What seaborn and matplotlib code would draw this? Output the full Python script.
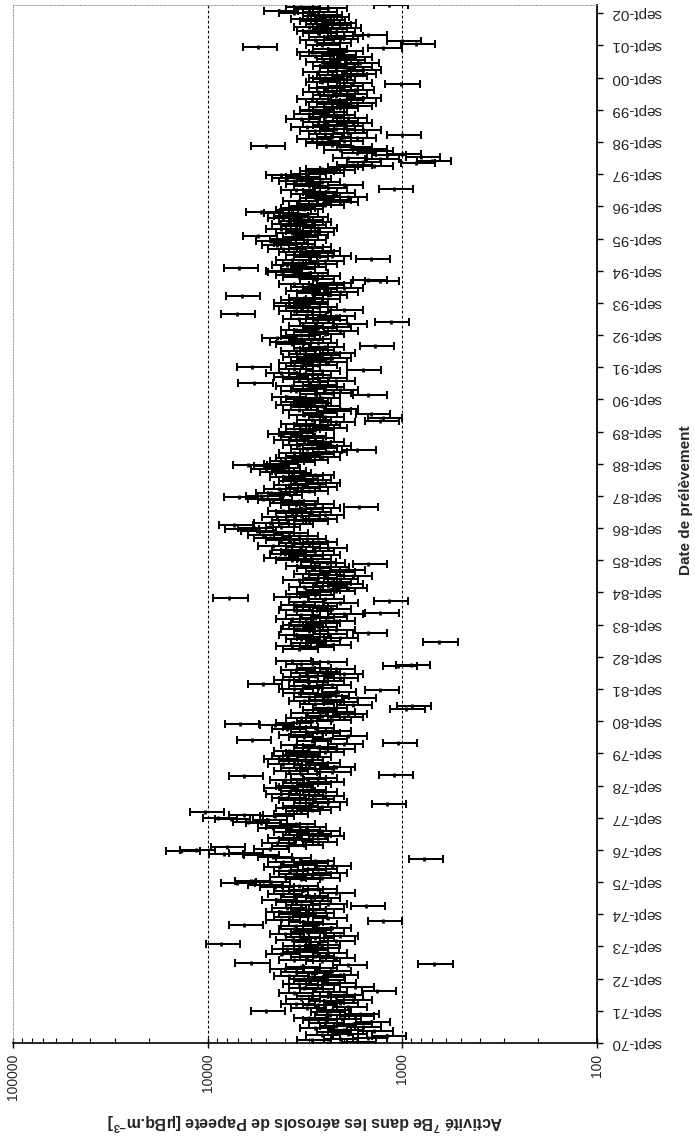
import numpy as np
import pandas as pd
import matplotlib
matplotlib.use("Agg")
import matplotlib.pyplot as plt
import matplotlib.dates as mdates
from matplotlib.ticker import FixedLocator, FuncFormatter, LogLocator, NullFormatter
import seaborn as sns

nan = np.nan

# 7Be activity (uBq/m3): one row per sampling year (September -> August), samples in time order
be_1970s = [
    [2400, 1700, 2900, 2100, 1500, 1200, 2600, 1900, 2300, 1400, 2000, 2800, 1600, 2200, 1800, 2500, 1450, 2700, 2050, 3000, 1750, 2350, 1650, 2450],  # 70-71
    [5000, 2300, 3100, 1900, 2700, 3500, 2100, 2500, 1800, 3300, 2200, 2900, 2000, 3600, 2400, 1350, 2800, 3200, 1750, 2600, 3400, 2150, 3000, 2450],  # 71-72
    [3200, 2500, 3800, 2100, 2900, 3500, 2300, 4000, 2700, 3300, 1900, 690, 6000, 2600, 3600, 2200, 3100, 2800, 4200, 2400, 3400, 3000, 3900, 2650],   # 72-73
    [3400, 2600, 8500, 3000, 2200, 3700, 2800, 3300, 2100, 4000, 2500, 3100, 2900, 3600, 2300, 3500, 6500, 2700, 3200, 1250, 4200, 2400, 3800, 3050],  # 73-74
    [3600, 2800, 4200, 3100, 2500, 3900, 1530, 3300, 2400, 3700, 2900, 4400, 2600, 3500, 3000, 4100, 2200, 3800, 3200, 2700, 4500, 3400, 5200, 7100],  # 74-75
    [4700, 6000, 3300, 2600, 4000, 2900, 3600, 2400, 3800, 3100, 2700, 4300, 2300, 3500, 3000, 4100, 2800, 770, 3700, 4600, 5400, 8200, 6500, 13700],  # 75-76
    [11500, 4800, 8000, 3900, 3200, 4400, 2700, 3600, 3000, 4100, 2500, 3400, 2900, 3800, 2600, 3300, 4600, 3100, 4200, 3500, 5300, 6200, 4900, 7600],  # 76-77
    [8800, 4500, 6500, 3800, 10300, 3300, 2900, 3700, 2600, 3400, 1200, 3000, 2400, 3600, 2800, 3900, 2500, 3200, 4200, 2700, 3500, 3100, 4300, 3600],  # 77-78
    [3700, 2900, 3400, 2500, 4000, 3100, 2700, 6500, 1100, 3300, 2300, 3800, 2800, 3500, 2200, 3000, 4100, 2600, 3600, 3200, 4300, 2900, 3900, 3400],  # 78-79
    [3300, 2500, 3800, 2200, 3000, 2700, 3500, 2000, 1050, 2900, 5900, 2400, 3200, 1900, 3600, 2600, 3100, 2300, 3900, 2800, 3400, 4500, 6800, 3700],  # 79-80
]
be_1980s = [
    [2900, 2300, 3300, 2000, 2600, 1900, 3100, 2200, 2700, 960, 2400, 890, 1800, 2800, 2100, 3200, 2500, 1700, 3000, 2350, 2750, 3400, 2150, 1300],    # 80-81
    [3600, 2700, 3200, 2300, 5200, 3000, 2500, 3800, 2100, 3400, 2800, 2000, 3100, 2600, 3500, 2200, 2900, 1050, 900, 3300, 2400, 3700, nan, nan],      # 81-82
    [nan, nan, nan, nan, nan, nan, 3400, 2800, 3700, 2300, 3100, 650, 2600, 3300, 2100, 2900, 3600, 2400, 1500, 3000, 2200, 3500, 2700, 3200],          # 82-83
    [3400, 2600, 3100, 2200, 3700, 2800, 2400, 3300, 2000, 1300, 2900, 3600, 2300, 3000, 2700, 3500, 2100, 3200, 1170, 2500, 7800, 3800, 2800, 3300],   # 83-84
    [2900, 2200, 2600, 1900, 3200, 2400, 2000, 2800, 2300, 3400, 2100, 2700, 1800, 2500, 3000, 2200, 2600, 1950, 2900, 2350, 3300, 1500, 2450, 2750],   # 84-85
    [3700, 2900, 4300, 3200, 2600, 4000, 3500, 2800, 3900, 2400, 3300, 4600, 3000, 3600, 2700, 4200, 3100, 4800, 3400, 5200, 3800, 4500, 5600, 6800],   # 85-86
    [5800, 4200, 7300, 3600, 4800, 3000, 3900, 2700, 4400, 3300, 2500, 3700, 2900, 4100, 3200, 2600, 1660, 3500, 2800, 4000, 3400, 4600, 5200, 6900],   # 86-87
    [5300, 4100, 4700, 3500, 3000, 4300, 3300, 2700, 3800, 3100, 2600, 3600, 2900, 3400, 4000, 3200, 2800, 3700, 4500, 3900, 5000, 4200, 4800, 6200],   # 87-88
    [4300, 3500, 4000, 3000, 3700, 2600, 3300, 2800, 3600, 2400, 1700, 3100, 2700, 2300, 3400, 2900, 2500, 3200, 3800, 2800, 3500, 3100, 4100, 3600],   # 88-89
    [3600, 2800, 3300, 2400, 3000, 2600, 3500, 2200, 1300, 2900, 1250, 2500, 3200, 1450, 2700, 2300, 3400, 2100, 3100, 2600, 3700, 2900, 3500, 3000],   # 89-90
]
be_1990s = [
    [3300, 2600, 3900, 1500, 2800, 2300, 3500, 2100, 3100, 2500, 3700, 2700, 5800, 3000, 2200, 3400, 2400, 3800, 2900, 3200, 4200, 2600, 1600, 3600],   # 90-91
    [5900, 3300, 2700, 3600, 2400, 3100, 2900, 2300, 3400, 2600, 3200, 2200, 3500, 2800, 3000, 2500, 1380, 3700, 2700, 4000, 3200, 2900, 4400, 3500],   # 91-92
    [3300, 2500, 3000, 2100, 3500, 2700, 2300, 3200, 1900, 2800, 1150, 2400, 3400, 2600, 2200, 3100, 7100, 2900, 3600, 2000, 3300, 2700, 3800, 3000],   # 92-93
    [3800, 3000, 3500, 2600, 3200, 6700, 2400, 2900, 2100, 3300, 2700, 2000, 3100, 2500, 3600, 2300, 1300, 1500, 2800, 3400, 2600, 3700, 3000, 4100],   # 93-94
    [4200, 3500, 6900, 3100, 3900, 2700, 3400, 2500, 3700, 1450, 3000, 2300, 3300, 2800, 3600, 2600, 4100, 3200, 2900, 4400, 3500, 3800, 4700, 3100],   # 94-95
    [4000, 3400, 5500, 3000, 3700, 2800, 3300, 4200, 2700, 3500, 3100, 3900, 2900, 3600, 3200, 4100, 3000, 3800, 3400, 4300, 5300, 3700, 3200, 3500],   # 95-96
    [3200, 2500, 2900, 2100, 3400, 2300, 2800, 1900, 2600, 3100, 2200, 2700, 3500, 1100, 2400, 3000, 2000, 3300, 2600, 3600, 2900, 3900, 3300, 4200],   # 96-97
    [3100, 2500, 2800, 2200, 2600, 2000, 1400, 1800, 850, 1600, 700, 1300, 1900, 800, 1200, 1000, 1700, 1400, 2100, 1500, 1800, 5000, 2300, 2600],      # 97-98
    [2600, 2000, 2900, 1700, 2300, 1000, 2500, 1900, 2800, 1600, 2200, 3100, 2000, 2400, 1800, 2700, 2100, 3300, 1900, 2500, 2200, 3000, 2400, 2800],   # 98-99
    [2800, 2100, 2500, 1800, 2300, 1700, 2600, 2000, 2900, 1600, 2200, 2400, 1900, 2700, 2100, 1750, 2500, 2300, 2000, 1020, 1800, 2600, 2200, 2400],   # 99-00
]
be_2000s = [
    [2500, 1900, 2300, 1700, 2700, 2000, 1600, 2200, 1800, 2400, 2100, 1650, 2600, 1950, 2300, 1800, 2800, 2150, 2500, 2900, 2000, 2400, 1250, 5500],   # 00-01
    [2600, 850, 2300, 1000, 2800, 2100, 2500, 2000, 1500, 2700, 2200, 2900, 2400, 2050, 3000, 2300, 2600, 2150, 2800, 2450, 3100, 2350, 2700, 2550],    # 01-02
    [3600, 2700, 4300, 3000, 2400, 3300, 1170],                                                                                                          # 02 (Sept-Nov)
]

REL_ERR = 0.20            # relative measurement uncertainty (error bars)
FIRST_YEAR = 1970
PER_YEAR = 24
tick_years = list(range(1970, 2003))
tick_labels = [f"sept-{y % 100:02d}" for y in tick_years]
value_ticks = [100, 1000, 10000, 100000]

rows = be_1970s + be_1980s + be_1990s + be_2000s
recs = []
for k, row in enumerate(rows):
    start = pd.Timestamp(f"{FIRST_YEAR + k}-09-01")
    for i, v in enumerate(row):
        recs.append((mdates.date2num(start + pd.Timedelta(days=i * 365.25 / PER_YEAR)), v))
df = pd.DataFrame(recs, columns=["date", "activity"]).dropna()
df["err"] = df["activity"] * REL_ERR

sns.set_theme(style="white")
plt.rcParams["font.family"] = ["Liberation Sans", "DejaVu Sans"]
plt.rcParams["mathtext.default"] = "regular"

W, H = 695, 1140
fig = plt.figure(figsize=(W / 100, H / 100), dpi=100)
ax = fig.add_axes([13 / W, 1 - 1043 / H, (597 - 13) / W, (1043 - 5) / H])
ax.set_xscale("log")

ax.errorbar(df["activity"], df["date"], xerr=df["err"], fmt="none",
            ecolor="black", elinewidth=1.45, capsize=2.6, capthick=1.45, zorder=3)
sns.scatterplot(x=df["activity"], y=df["date"], marker="|", s=9, color="black",
                linewidth=2.0, ax=ax, zorder=4, legend=False)

ax.set_xlim(1e5, 1e2)
ymin = mdates.date2num(pd.Timestamp("1970-09-01"))
ymax = mdates.date2num(pd.Timestamp("2002-12-04"))
ax.set_ylim(ymin, ymax)

for v in (1e4, 1e3):
    ax.axvline(v, color="black", lw=0.8, ls=(0, (2.5, 2.0)), zorder=1)

# spines
for s in ("left", "top"):
    ax.spines[s].set_color("0.6")
    ax.spines[s].set_linewidth(0.7)
    ax.spines[s].set_linestyle(":")
ax.spines["right"].set_color("black")
ax.spines["right"].set_linewidth(1.3)
ax.spines["bottom"].set_color("black")
ax.spines["bottom"].set_linewidth(1.2)

# date axis (right)
ax.yaxis.tick_right()
ypos = [mdates.date2num(pd.Timestamp(f"{y}-09-01")) for y in tick_years]
ax.yaxis.set_major_locator(FixedLocator(ypos))
ax.set_yticklabels(tick_labels, rotation=180, fontsize=11, va="center", ha="left")
ax.tick_params(axis="y", which="major", direction="out", length=4, width=1,
               right=True, left=False, color="black", pad=6)

# value axis (bottom)
ax.xaxis.set_major_locator(FixedLocator(value_ticks))
ax.xaxis.set_major_formatter(FuncFormatter(lambda v, p: f"{int(round(v))}"))
ax.xaxis.set_minor_locator(LogLocator(base=10, subs=np.arange(2, 10)))
ax.xaxis.set_minor_formatter(NullFormatter())
ax.tick_params(axis="x", which="major", direction="inout", length=7, width=1,
               bottom=True, color="black", labelsize=10, labelrotation=90, pad=4)
ax.tick_params(axis="x", which="minor", direction="in", length=3.5, width=0.8,
               bottom=True, color="black")

ax.set_xlabel("Activité $^{7}$Be dans les aérosols de Papeete [µBq.m$^{-3}$]",
              rotation=180, fontweight="bold", fontsize=11.5, ha="center", va="center")
ax.xaxis.set_label_coords(0.5, -0.076)

ax.yaxis.set_label_position("right")
ax.set_ylabel("Date de prélèvement", rotation=90, fontweight="bold", fontsize=11,
              ha="center", va="center")
ax.yaxis.set_label_coords(1.152, 0.523)

fig.savefig("out.png", dpi=100)
